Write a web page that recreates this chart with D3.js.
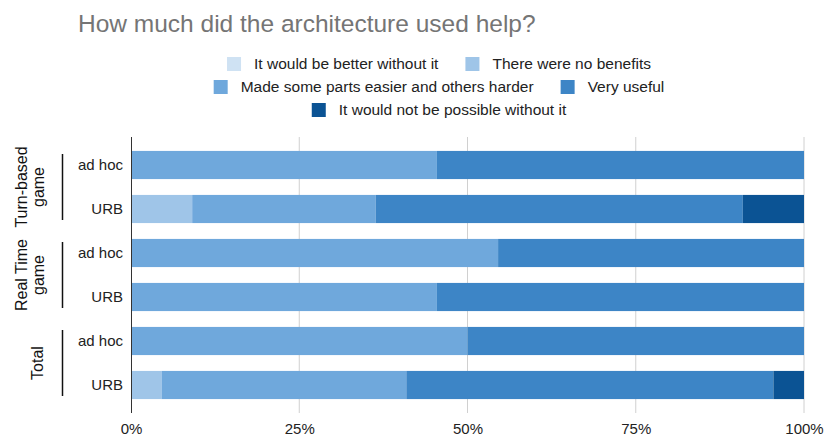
<!DOCTYPE html>
<html>
<head>
<meta charset="utf-8">
<script src="https://cdn.jsdelivr.net/npm/d3@7"></script>
<style>
  body { margin: 0; background: #fff; }
  text { font-family: "Liberation Sans", Arial, sans-serif; }
</style>
</head>
<body>
<svg id="chart"></svg>
<script>
/////////////////////////////////////////////////
///////////////////// data //////////////////////
/////////////////////////////////////////////////

var groups = ["Turn-based game", "Real Time game", "Total"];
var rowLabels = ["ad hoc", "URB", "ad hoc", "URB", "ad hoc", "URB"];
var seriesNames = [
  "It would be better without it",
  "There were no benefits",
  "Made some parts easier and others harder",
  "Very useful",
  "It would not be possible without it"
];
// answer counts per row (Turn-based ad hoc, URB, Real Time ad hoc, URB, Total ad hoc, URB)
var betterWithout = [0, 0, 0, 0, 0, 0];
var noBenefits    = [0, 1, 0, 0, 0, 1];
var madeSome      = [5, 3, 6, 5, 11, 8];
var veryUseful    = [6, 6, 5, 6, 11, 12];
var notPossible   = [0, 1, 0, 0, 0, 1];
var tickValues = [0, 0.25, 0.5, 0.75, 1];

var colors = ["#cfe2f3", "#9fc5e8", "#6fa8dc", "#3d85c6", "#0b5394"];

/////////////////////////////////////////////////
//////////////////// layout /////////////////////
/////////////////////////////////////////////////

var width = 825, height = 437;
var svg = d3.select("#chart").attr("width", width).attr("height", height);

var x = d3.scaleLinear().domain([0, 1]).range([131, 804]);
var y = d3.scaleBand().domain(d3.range(rowLabels.length)).range([143, 407]).paddingInner(0.36).paddingOuter(0.18);

var table = rowLabels.map(function (r, i) {
  var vals = [betterWithout[i], noBenefits[i], madeSome[i], veryUseful[i], notPossible[i]];
  var total = d3.sum(vals);
  var o = { row: i };
  seriesNames.forEach(function (s, k) { o[s] = vals[k] / total; });
  return o;
});

var stack = d3.stack().keys(seriesNames);
var layers = stack(table);

// title
svg.append("text")
  .attr("x", 78).attr("y", 32)
  .attr("font-size", 24.5)
  .attr("fill", "#757575")
  .text("How much did the architecture used help?");

// gridlines
svg.append("g").selectAll("line")
  .data(tickValues.slice(1))
  .enter().append("line")
  .attr("x1", function (d) { return x(d); })
  .attr("x2", function (d) { return x(d); })
  .attr("y1", 137).attr("y2", 413)
  .attr("stroke", "#d0d0d0").attr("stroke-width", 1);

// bars
svg.append("g").selectAll("g")
  .data(layers)
  .enter().append("g")
  .attr("fill", function (d, i) { return colors[i]; })
  .selectAll("rect")
  .data(function (d) { return d; })
  .enter().append("rect")
  .attr("x", function (d) { return x(d[0]); })
  .attr("width", function (d) { return x(d[1]) - x(d[0]); })
  .attr("y", function (d) { return y(d.data.row); })
  .attr("height", y.bandwidth());

// y axis line
svg.append("line")
  .attr("x1", 131.5).attr("x2", 131.5)
  .attr("y1", 137).attr("y2", 413)
  .attr("stroke", "#333").attr("stroke-width", 1);

// x tick labels
var xAxis = d3.axisBottom(x).tickValues(tickValues).tickSize(0).tickPadding(0)
  .tickFormat(d3.format(".0%"));
var gx = svg.append("g").attr("transform", "translate(0,423)").call(xAxis);
gx.select(".domain").remove();
gx.selectAll("text").attr("font-size", 15).attr("fill", "#222")
  .attr("font-family", "Liberation Sans, Arial, sans-serif").attr("dy", "0.75em");

// row labels
svg.append("g").selectAll("text")
  .data(rowLabels)
  .enter().append("text")
  .attr("x", 123)
  .attr("y", function (d, i) { return y(i) + y.bandwidth() / 2; })
  .attr("dy", "0.35em")
  .attr("text-anchor", "end")
  .attr("font-size", 15)
  .attr("fill", "#222")
  .text(function (d) { return d; });

// group labels and separators
groups.forEach(function (g, gi) {
  var yc = (y(gi * 2) + y(gi * 2 + 1) + y.bandwidth()) / 2;
  svg.append("line")
    .attr("x1", 62.5).attr("x2", 62.5)
    .attr("y1", yc - 33).attr("y2", yc + 33)
    .attr("stroke", "#111").attr("stroke-width", 1.5);
  var words = g.split(" ");
  var lines = g === "Total" ? [g] : [words.slice(0, words.length - 1).join(" "), words[words.length - 1]];
  var baseX = lines.length === 1 ? [43] : [27, 44];
  lines.forEach(function (ln, li) {
    svg.append("text")
      .attr("transform", "translate(" + baseX[li] + "," + yc + ") rotate(-90)")
      .attr("text-anchor", "middle")
      .attr("font-size", 16)
      .attr("fill", "#111")
      .text(ln);
  });
});

// legend: centered rows
var legendRows = [[0, 1], [2, 3], [4]];
var legendY = [64, 87, 110];
var legendCenter = 439;
var legend = svg.append("g");
legendRows.forEach(function (items, ri) {
  var row = legend.append("g");
  var cx = 0;
  items.forEach(function (k, j) {
    if (j > 0) cx += 27;
    row.append("rect")
      .attr("x", cx).attr("y", legendY[ri] - 7)
      .attr("width", 14).attr("height", 14)
      .attr("fill", colors[k]);
    var t = row.append("text")
      .attr("x", cx + 27).attr("y", legendY[ri])
      .attr("dy", "0.35em")
      .attr("font-size", 15.5)
      .attr("fill", "#222")
      .text(seriesNames[k]);
    cx += 27 + t.node().getComputedTextLength();
  });
  row.attr("transform", "translate(" + (legendCenter - cx / 2) + ",0)");
});
</script>
</body>
</html>
